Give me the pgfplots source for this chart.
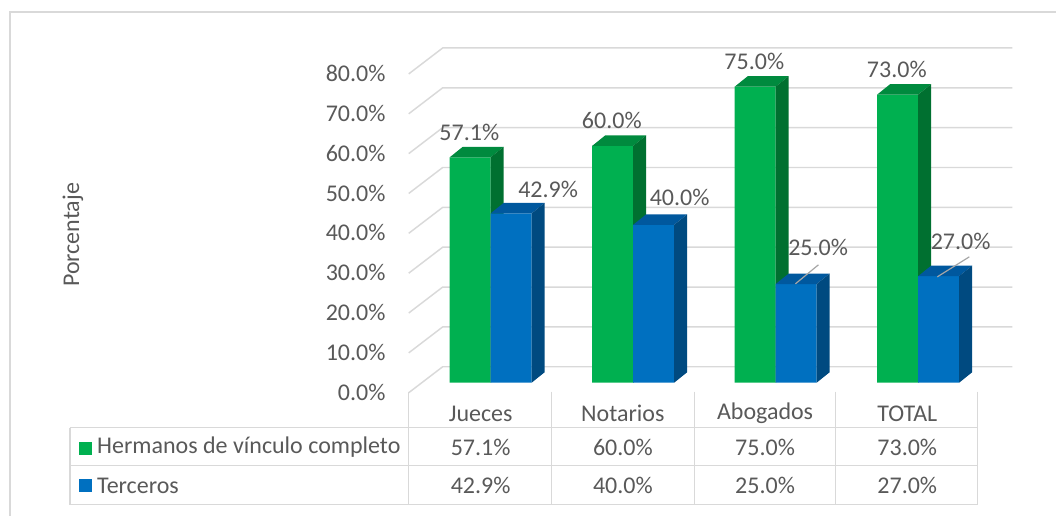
\documentclass[border=0pt]{standalone}
\usepackage{fontspec}
\setmainfont{Carlito}
\usepackage{pgfplots}
\usepackage{pgfplotstable}
\pgfplotsset{compat=1.18}
\pgfkeys{/pgf/number format/assume math mode=true}
\definecolor{gfront}{HTML}{00B050}
\definecolor{gtop}{HTML}{008A3E}
\definecolor{gside}{HTML}{007030}
\definecolor{bfront}{HTML}{0070C0}
\definecolor{btop}{HTML}{00589E}
\definecolor{bside}{HTML}{004A80}
\definecolor{gridc}{HTML}{D9D9D9}
\definecolor{txt}{HTML}{595959}
\definecolor{leader}{HTML}{A6A6A6}
\pgfplotstableread{
x g b bdx bdy
0 57.1 42.9 37 24
1 60.0 40.0 26 27
2 75.0 25.0 22 37
3 73.0 27.0 22 35
}\datatable
\newcommand{\fs}{\fontsize{18}{21}\selectfont}
\begin{document}
\begin{tikzpicture}
\begin{scope}[shift={(0pt,387pt)}, x=0.75pt, y=-0.75pt]
  \path (0,0) rectangle (1057,516);
  \draw[gridc, line width=1.1pt] (10,516) -- (10,12) -- (1057,12);
  \foreach \k in {0,...,8} {
    \pgfmathsetmacro\py{367-39.875*\k}
    \draw[gridc, line width=1.1pt] (409,\py+26) -- (443,\py) -- (1013,\py);
    \pgfmathsetmacro\lab{10*\k}
    \node[anchor=east, text=txt, font=\fs, inner sep=0pt] at (386,\py+25.5) {\pgfmathprintnumber[fixed,fixed zerofill,precision=1]{\lab}\%};
  }
  % table
  \draw[gridc, line width=1.1pt] (70,428) -- (978,428);
  \draw[gridc, line width=1.1pt] (70,466) -- (978,466);
  \draw[gridc, line width=1.1pt] (70,505) -- (978,505);
  \draw[gridc, line width=1.1pt] (70,428) -- (70,505);
  \foreach \vx in {409,552,695,836,978} {
    \draw[gridc, line width=1.1pt] (\vx,392) -- (\vx,505);
  }
  \fill[gfront] (79,442) rectangle (92,455);
  \fill[bfront] (79,479) rectangle (92,492);
  \node[anchor=west, text=txt, font=\fs, inner sep=0pt] at (97,447.5) {Hermanos de vínculo completo};
  \node[anchor=west, text=txt, font=\fs, inner sep=0pt] at (97,486) {Terceros};
  \node[rotate=90, text=txt, font=\fs, inner sep=0pt] at (73,235) {Porcentaje};
  \foreach \name/\g/\b [count=\i from 0] in {Jueces/57.1/42.9, Notarios/60.0/40.0, Abogados/75.0/25.0, TOTAL/73.0/27.0} {
    \pgfmathsetmacro\cx{481+142.3*\i}
    \node[text=txt, font=\fs, inner sep=0pt] at (\cx,414) {\name};
    \node[text=txt, font=\fs, inner sep=0pt] at (\cx,447.5) {\g\%};
    \node[text=txt, font=\fs, inner sep=0pt] at (\cx,486) {\b\%};
  }
\end{scope}
\begin{axis}[at={(0pt,0pt)}, anchor=south west, x=106.95pt, y=2.9625pt,
  xmin=-3.443, xmax=3.969, ymin=-33.67, ymax=96.96, hide axis, clip=false]
  \addplot[ybar, bar width=30.75pt, bar shift=-15.375pt, fill=gfront, draw=none,
    nodes near coords={\pgfmathprintnumber[fixed,fixed zerofill,precision=1]{\pgfplotspointmeta}\%},
    every node near coord/.append style={font=\fs, text=txt, anchor=center, inner sep=0pt, xshift=-16pt, yshift=18.75pt}]
    table[x=x, y=g] {\datatable};
  \pgfplotsinvokeforeach{0,1,2,3}{
    \pgfplotstablegetelem{#1}{g}\of\datatable
    \pgfmathsetmacro\v{\pgfplotsretval}
    \pgfmathsetmacro\xa{#1-0.2875}
    \pgfmathsetmacro\xb{#1}
    \pgfmathsetmacro\xc{#1-0.2875+0.0912}
    \pgfmathsetmacro\xd{#1+0.0912}
    \pgfmathsetmacro\vt{\v+2.65}
    \addplot[fill=gtop, draw=none] coordinates {(\xa,\v) (\xb,\v) (\xd,\vt) (\xc,\vt)};
    \addplot[fill=gside, draw=none] coordinates {(\xb,0) (\xb,\v) (\xd,\vt) (\xd,2.65)};
  }
  \addplot[ybar, bar width=30.75pt, bar shift=15.375pt, fill=bfront, draw=none,
    nodes near coords={\pgfmathprintnumber[fixed,fixed zerofill,precision=1]{\pgfplotspointmeta}\%},
    visualization depends on={\thisrow{bdx} \as \bdx},
    visualization depends on={\thisrow{bdy} \as \bdy},
    every node near coord/.append style={font=\fs, text=txt, anchor=center, inner sep=0pt, xshift={(\bdx+20.5)*0.75pt}, yshift={\bdy*0.75pt}}]
    table[x=x, y=b] {\datatable};
  \pgfplotsinvokeforeach{0,1,2,3}{
    \pgfplotstablegetelem{#1}{b}\of\datatable
    \pgfmathsetmacro\v{\pgfplotsretval}
    \pgfmathsetmacro\xa{#1}
    \pgfmathsetmacro\xb{#1+0.2875}
    \pgfmathsetmacro\xc{#1+0.0912}
    \pgfmathsetmacro\xd{#1+0.2875+0.0912}
    \pgfmathsetmacro\vt{\v+2.65}
    \addplot[fill=btop, draw=none] coordinates {(\xa,\v) (\xb,\v) (\xd,\vt) (\xc,\vt)};
    \addplot[fill=bside, draw=none] coordinates {(\xb,0) (\xb,\v) (\xd,\vt) (\xd,2.65)};
  }
\end{axis}
\begin{scope}[shift={(0pt,387pt)}, x=0.75pt, y=-0.75pt]
  \draw[leader, line width=0.9pt] (796,284) -- (819,265);
  \draw[leader, line width=0.9pt] (938,277) -- (970,257);
\end{scope}
\end{tikzpicture}
\end{document}
